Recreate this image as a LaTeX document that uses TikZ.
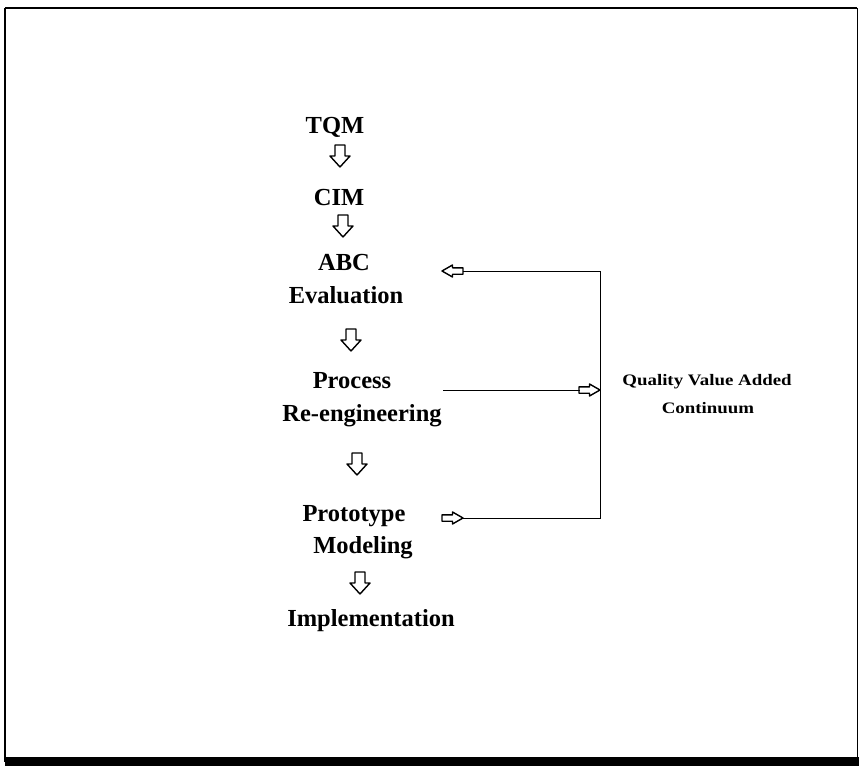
\documentclass[tikz,border=0pt]{standalone}
\usepackage{fontspec}
\setmainfont{Liberation Serif}
\begin{document}
\begin{tikzpicture}[x=1pt,y=-1pt,
  lbl/.style={font=\fontsize{24.5}{28}\selectfont\bfseries, inner sep=0pt, anchor=base},
  qlbl/.style={font=\fontsize{16}{19}\selectfont\bfseries, inner sep=0pt, anchor=base, xscale=1.18, transform shape},
  fb/.style={line width=0.9pt},
  downarr/.pic={\draw[line width=1.4pt, line join=round] (-5,-11) -- (5,-11) -- (5,0) -- (10,0) -- (0,11) -- (-10,0) -- (-5,0) -- cycle;},
  rightarr/.pic={\draw[line width=1.4pt, line join=round] (-10.5,-3.2) -- (0,-3.2) -- (0,-6) -- (10.5,0) -- (0,6) -- (0,3.2) -- (-10.5,3.2) -- cycle;},
  leftarr/.pic={\draw[line width=1.4pt, line join=round] (10.5,-3.2) -- (0,-3.2) -- (0,-6) -- (-10.5,0) -- (0,6) -- (0,3.2) -- (10.5,3.2) -- cycle;}
]
\useasboundingbox (0,0) rectangle (859,768);
% frame
\draw[line width=2.2pt] (5,8) -- (857,8);
\draw[line width=2pt] (5,8) -- (5,762);
\draw[line width=1pt] (857,8) -- (857,760);
\fill (5,757) rectangle (859,766);

% main column
\node[lbl] (tqm) at (335,133) {TQM};
\pic at (340,156) {downarr};
\node[lbl] (cim) at (339,205) {CIM};
\pic at (343,226) {downarr};
\node[lbl] (abc) at (344,270) {ABC};
\node[lbl] (eval) at (346,303) {Evaluation};
\pic at (351,340) {downarr};
\node[lbl] (proc) at (352,388) {Process};
\node[lbl] (reeng) at (362,421) {Re-engineering};
\pic at (357,464) {downarr};
\node[lbl] (proto) at (354,521) {Prototype};
\node[lbl] (model) at (363,553) {Modeling};
\pic at (360,583) {downarr};
\node[lbl] (impl) at (371,626) {Implementation};

% quality label
\node[qlbl] (q1) at (707,385) {Quality Value Added};
\node[qlbl] (q2) at (708,413) {Continuum};

% feedback connectors
\coordinate (tA) at (463,271);
\coordinate (tB) at (600,271);
\coordinate (mA) at (443,390);
\coordinate (mB) at (580,390);
\coordinate (bA) at (463,518);
\coordinate (bB) at (600,518);
\pic at (452.5,271) {leftarr};
\pic at (589.5,390) {rightarr};
\pic at (452.5,518) {rightarr};
\draw[fb] (tA) -- (tB) -- (bB) -- (bA);
\draw[fb] (mA) -- (mB);
\end{tikzpicture}
\end{document}
